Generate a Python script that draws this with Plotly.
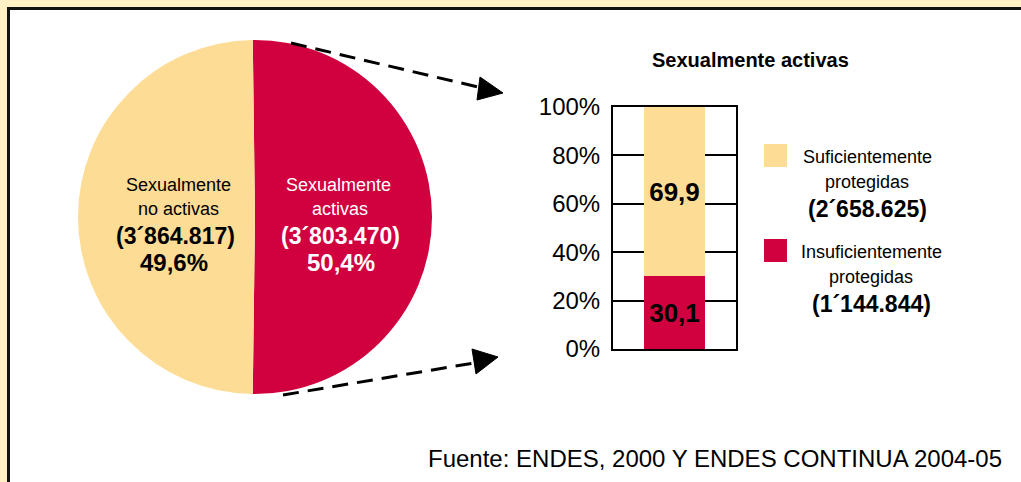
import plotly.graph_objects as go

W, H = 1021, 482

# ---- data ----
pie_labels = ["Sexualmente activas", "Sexualmente no activas"]
pie_values = [50.4, 49.6]
pie_counts = ["3´803.470", "3´864.817"]
pie_pct_text = ["50,4%", "49,6%"]

bar_category = ["Sexualmente activas"]
insuf_values = [30.1]
suf_values = [69.9]
legend_names = ["Suficientemente<br>protegidas", "Insuficientemente<br>protegidas"]
legend_counts = ["2´658.625", "1´144.844"]
y_ticks = [0, 20, 40, 60, 80, 100]

YELLOW = "#FDDC95"
RED = "#D1003F"
CREAM = "#FFF0C6"
FONT = "Liberation Sans, Arial, sans-serif"


def px(x):
    return x / W


def py(y):
    return 1 - y / H


fig = go.Figure()

# Pie (center ~ (255,217), radius ~177)
cx, cy, r = 255, 217, 177
fig.add_trace(go.Pie(
    labels=pie_labels, values=pie_values, sort=False, direction="clockwise",
    rotation=-0.72, marker=dict(colors=[RED, YELLOW], line=dict(width=0)),
    textinfo="none", hoverinfo="label+percent", showlegend=False,
    domain=dict(x=[px(cx - r), px(cx + r)], y=[py(cy + r), py(cy - r)]),
))

# Stacked bar
for vals, col, nm in [(insuf_values, RED, "Insuficientemente protegidas"),
                      (suf_values, YELLOW, "Suficientemente protegidas")]:
    fig.add_trace(go.Bar(
        x=[0], y=vals, marker=dict(color=col, line=dict(width=0)), width=0.5,
        text=[f"{v:.1f}".replace(".", ",") for v in vals],
        textposition="inside", insidetextanchor="middle", textangle=0,
        textfont=dict(family=FONT, size=26, color="black", weight="bold"),
        constraintext="none", showlegend=False, xaxis="x", yaxis="y", name=nm,
    ))

shapes = []
# Frame: white panel with black top/left edge on cream paper
shapes.append(dict(type="rect", xref="paper", yref="paper", layer="below",
                   x0=px(8.5), x1=px(W + 20), y0=py(H + 20), y1=py(8.5),
                   fillcolor="white", line=dict(color="#111111", width=3)))


def dashed_arrow(x0, y0, x1, y1, tri):
    shapes.append(dict(type="line", xref="paper", yref="paper",
                       x0=px(x0), y0=py(y0), x1=px(x1), y1=py(y1),
                       line=dict(color="black", width=3, dash="16px,9px")))
    path = "M {} {} L {} {} L {} {} Z".format(*[v for p in tri for v in (px(p[0]), py(p[1]))])
    shapes.append(dict(type="path", xref="paper", yref="paper", path=path,
                       fillcolor="black", line=dict(color="black", width=1)))


dashed_arrow(291, 43, 478, 87, [(480, 77), (503, 93), (477, 100)])
dashed_arrow(283, 395, 474, 363, [(472, 349), (498, 357), (476, 374)])

# Legend squares
shapes.append(dict(type="rect", xref="paper", yref="paper",
                   x0=px(764), x1=px(787), y0=py(167), y1=py(144),
                   fillcolor=YELLOW, line=dict(width=0)))
shapes.append(dict(type="rect", xref="paper", yref="paper",
                   x0=px(764), x1=px(787), y0=py(262), y1=py(239),
                   fillcolor=RED, line=dict(width=0)))

ann = []


def text(x, y, t, size, color="black", bold=False, xanchor="center"):
    ann.append(dict(xref="paper", yref="paper", x=px(x), y=py(y), text=t,
                    showarrow=False, xanchor=xanchor, yanchor="middle",
                    font=dict(family=FONT, size=size, color=color,
                              weight="bold" if bold else "normal")))


# Pie labels
text(178, 185, "Sexualmente", 18)
text(178, 209, "no activas", 18)
text(175, 236, f"({pie_counts[1]})", 23, bold=True)
text(174, 262, pie_pct_text[1], 24, bold=True)

text(338, 185, "Sexualmente", 18, color="white")
text(340, 209, "activas", 18, color="white")
text(340, 236, f"({pie_counts[0]})", 23, color="white", bold=True)
text(341, 262, pie_pct_text[0], 24, color="white", bold=True)

# Bar title
text(750, 60, bar_category[0], 20, bold=True)

# Legend texts
for i, (yy, xc) in enumerate([(157, 867), (252, 871)]):
    nm = legend_names[i].split("<br>")
    text(xc, yy, nm[0], 18)
    text(xc, yy + 25, nm[1], 18)
    text(xc, yy + 52, f"({legend_counts[i]})", 23, bold=True)

# Source
text(1004, 458, "Fuente: ENDES, 2000 Y ENDES CONTINUA 2004-05", 24, xanchor="right")

fig.update_layout(
    template="none",
    width=W, height=H, autosize=False,
    margin=dict(l=0, r=0, t=0, b=0, pad=0, autoexpand=False),
    paper_bgcolor=CREAM, plot_bgcolor="rgba(0,0,0,0)",
    barmode="stack", bargap=0,
    font=dict(family=FONT, color="black"),
    xaxis=dict(domain=[px(613), px(736)], range=[-0.5, 0.5], showticklabels=False,
               showgrid=False, zeroline=False, showline=True, mirror=True,
               linecolor="black", linewidth=2, ticks="", fixedrange=True,
               automargin=False),
    yaxis=dict(domain=[py(349), py(107)], range=[0, 100], tickvals=y_ticks,
               ticktext=[f"{v}%" for v in y_ticks], ticks="",
               tickfont=dict(family=FONT, size=24, color="black"),
               ticklabelstandoff=6, automargin=False,
               showgrid=True, gridcolor="black", gridwidth=2, zeroline=False,
               showline=True, mirror=True, linecolor="black", linewidth=2,
               fixedrange=True),
    shapes=shapes, annotations=ann,
)

post = (
    "document.documentElement.style.margin='0';"
    "document.body.style.margin='0';document.body.style.padding='0';"
    "document.body.style.overflow='hidden';"
    "var d=document.getElementById('{plot_id}');"
    "d.style.position='fixed';d.style.left='0px';d.style.top='0px';"
    "d.style.width='1021px';d.style.height='482px';"
)
fig.write_html("out.html", config={"responsive": False, "displayModeBar": False},
               post_script=post)
